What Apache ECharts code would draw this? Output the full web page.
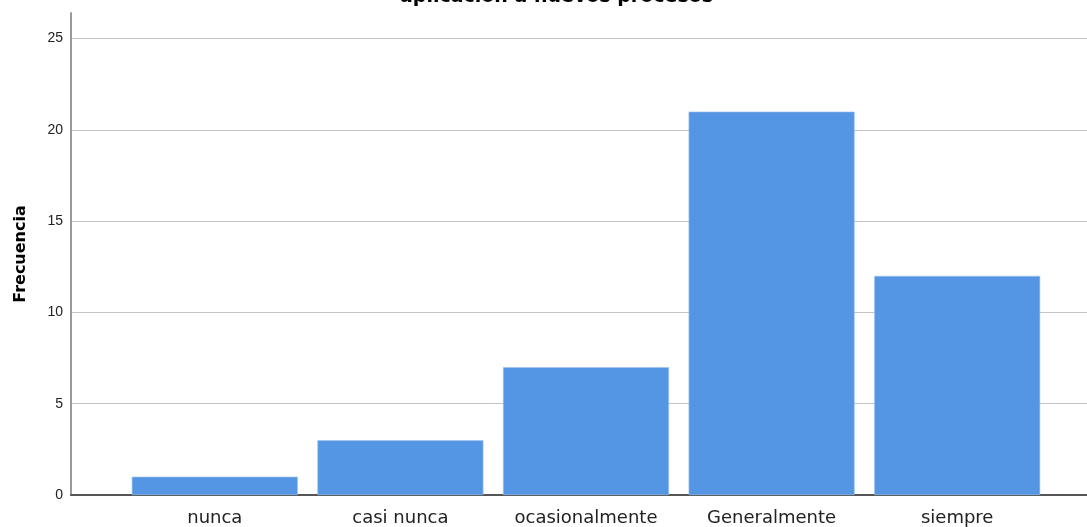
<!DOCTYPE html>
<html>
<head>
<meta charset="utf-8">
<script src="https://cdn.jsdelivr.net/npm/echarts@6/dist/echarts.min.js"></script>
<style>html,body{margin:0;padding:0;background:#fff;}#c{width:1087px;height:527px;}</style>
</head>
<body>
<div id="c"></div>
<script>
const titleText = 'aplicación a nuevos procesos';
const categories = ['nunca', 'casi nunca', 'ocasionalmente', 'Generalmente', 'siempre'];
const frecuencia = [1, 3, 7, 21, 12];
const yName = 'Frecuencia';

const grayLine = '#c4c4c4';
const chart = echarts.init(document.getElementById('c'));
chart.setOption({
  animation: false,
  backgroundColor: '#ffffff',
  title: {
    text: titleText, left: 395, top: -17,
    textStyle: { fontFamily: 'DejaVu Sans', fontWeight: 'bold', fontSize: 19, color: '#000' }
  },
  grid: [
    { left: 71, right: 0, top: 13, bottom: 32 },
    { left: 122, right: 37, top: 13, bottom: 32 }
  ],
  xAxis: [
    { type: 'value', gridIndex: 0, min: 0, max: 1, axisLine: { show: true, lineStyle: { color: '#555', width: 2 } },
      axisTick: { show: false }, axisLabel: { show: false }, splitLine: { show: false } },
    { type: 'category', gridIndex: 1, data: categories, axisLine: { show: false }, axisTick: { show: false },
      axisLabel: { interval: 0, hideOverlap: false, fontFamily: 'DejaVu Sans', fontSize: 18, color: '#222', margin: 14 } }
  ],
  yAxis: [
    { type: 'value', gridIndex: 0, min: 0, max: 26.4, interval: 5,
      name: yName, nameLocation: 'middle', nameGap: 42, nameRotate: 90,
      nameTextStyle: { fontFamily: 'DejaVu Sans', fontWeight: 'bold', fontSize: 16, color: '#000' },
      axisLine: { show: true, lineStyle: { color: '#999', width: 2 } }, axisTick: { show: false },
      axisLabel: { fontFamily: 'Liberation Sans, Arial', fontSize: 14, color: '#222', margin: 8,
        formatter: v => (v % 5 === 0 ? String(v) : '') },
      splitLine: { show: true, lineStyle: { color: [grayLine, grayLine, grayLine, grayLine, grayLine, grayLine, 'rgba(0,0,0,0)'], width: 1 } } },
    { type: 'value', gridIndex: 1, min: 0, max: 26.4, show: false, splitLine: { show: false } }
  ],
  series: [{
    type: 'bar', xAxisIndex: 1, yAxisIndex: 1, data: frecuencia, barWidth: 166,
    itemStyle: { color: '#5596e4', borderColor: '#9cc2f0', borderWidth: 0.6 }
  }]
});
</script>
</body>
</html>
